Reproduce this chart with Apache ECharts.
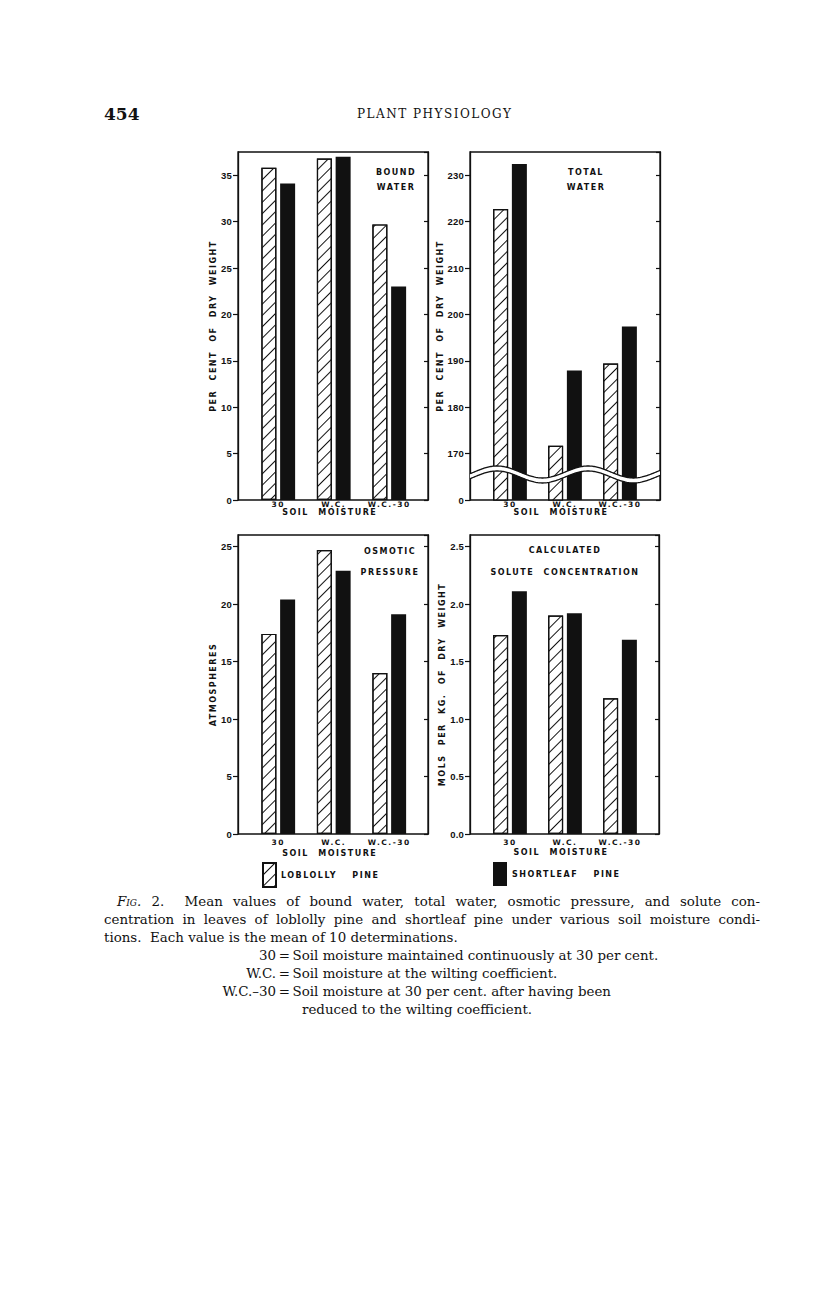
<!DOCTYPE html>
<html>
<head>
<meta charset="utf-8">
<script src="https://cdn.jsdelivr.net/npm/echarts@6/dist/echarts.min.js"></script>
<style>
    body { margin: 0; background: #fff; }
    #chart { position: absolute; left: 0; top: 0; width: 816px; height: 1297px; }
    #chart text { letter-spacing: 1.5px; word-spacing: 5px; }
    #chart text[style*="Liberation"] { letter-spacing: 0.2px; }
    #chart text[style*="Verdana"] { word-spacing: 11px; }
    .t { position: absolute; font-family: "DejaVu Serif", serif; color: #111; white-space: nowrap; }
    .cap { font-size: 13.4px; line-height: 18px; }
    .j { left: 104px; width: 656px; text-align: justify; text-align-last: justify; white-space: normal; }
    .k { display: inline-block; width: 80px; text-align: right; }
</style>
</head>
<body>
<div id="chart"></div>

<div class="t" style="left:104px;top:104px;font-size:17px;font-weight:bold;">454</div>
<div class="t" style="left:357px;top:107px;font-size:12px;letter-spacing:1.5px;">PLANT PHYSIOLOGY</div>

<div class="t cap j" style="left:117px;width:643px;top:893px;"><i style="font-variant:small-caps">Fig.</i> 2.&nbsp; Mean values of bound water, total water, osmotic pressure, and solute con-</div>
<div class="t cap j" style="top:911px;">centration in leaves of loblolly pine and shortleaf pine under various soil moisture condi-</div>
<div class="t cap" style="left:104px;top:929px;">tions.&nbsp; Each value is the mean of 10 determinations.</div>
<div class="t cap" style="left:196px;top:947px;"><span class="k">30</span>&thinsp;=&thinsp;Soil moisture maintained continuously at 30 per cent.</div>
<div class="t cap" style="left:196px;top:965px;"><span class="k">W.C.</span>&thinsp;=&thinsp;Soil moisture at the wilting coefficient.</div>
<div class="t cap" style="left:196px;top:983px;"><span class="k">W.C.–30</span>&thinsp;=&thinsp;Soil moisture at 30 per cent. after having been</div>
<div class="t cap" style="left:302px;top:1001px;">reduced to the wilting coefficient.</div>

<script>
    // soil moisture treatments
    const categories = ['30', 'W.C.', 'W.C.-30'];

    // bound water, per cent of dry weight
    const boundLob = [35.8, 36.8, 29.7];
    const boundShort = [34.1, 37.0, 23.0];
    // total water, per cent of dry weight (axis broken below 170)
    const totalLob = [222.7, 171.7, 189.4];
    const totalShort = [232.4, 187.9, 197.4];
    // osmotic pressure, atmospheres
    const osmoticLob = [17.4, 24.7, 14.0];
    const osmoticShort = [20.4, 22.9, 19.1];
    // calculated solute concentration, mols per kg of dry weight
    const soluteLob = [1.73, 1.90, 1.18];
    const soluteShort = [2.11, 1.92, 1.69];

    const lobName = 'LOBLOLLY PINE';
    const shortName = 'SHORTLEAF PINE';

    const letterFont = '"DejaVu Sans", sans-serif';
    const tickFont = '"Liberation Sans", sans-serif';
    const legendFont = '"DejaVu Sans", Verdana, sans-serif';

    const hatch = {
        symbol: 'rect',
        symbolSize: 1,
        color: '#111',
        backgroundColor: null,
        dashArrayX: [1, 0],
        dashArrayY: [1, 6.4],
        rotation: -Math.PI / 4
    };

    const panels = [
        {
            lob: boundLob, short: boundShort,
            min: 0, max: 37.5, step: 5,
            fmt: v => String(v),
            yName: 'PER CENT OF DRY WEIGHT',
            title: ['BOUND', 'WATER'],
            frame: [238, 152, 190, 348], inner: [250.5, 166.5],
            titleAt: [396, 172, 187], catMargin: 0, soilGap: 6, nameGap: 17
        },
        {
            lob: totalLob, short: totalShort,
            min: 160, max: 235, step: 10,
            fmt: v => (v === 160 ? '0' : String(v)),
            yName: 'PER CENT OF DRY WEIGHT',
            title: ['TOTAL', 'WATER'],
            frame: [470, 152, 190, 348], inner: [482.5, 165],
            titleAt: [586, 172, 187], catMargin: 0, soilGap: 5, nameGap: 18,
            breakAt: 165.5
        },
        {
            lob: osmoticLob, short: osmoticShort,
            min: 0, max: 26, step: 5,
            fmt: v => String(v),
            yName: 'ATMOSPHERES',
            title: ['OSMOTIC', 'PRESSURE'],
            frame: [238, 535, 190, 299], inner: [250.5, 166.5],
            titleAt: [390, 551, 572], catMargin: 4, soilGap: 15, nameGap: 17
        },
        {
            lob: soluteLob, short: soluteShort,
            min: 0, max: 2.6, step: 0.5,
            fmt: v => v.toFixed(1),
            yName: 'MOLS PER KG. OF DRY WEIGHT',
            title: ['CALCULATED', 'SOLUTE CONCENTRATION'],
            frame: [470, 535, 189, 299], inner: [482.5, 165],
            titleAt: [565, 550, 572], catMargin: 4, soilGap: 14, nameGap: 18
        }
    ];

    function renderBreak(params, api) {
        const cs = params.coordSys;
        const cy = api.coord([0, api.value(1)])[1];
        const amp = 6, period = 91, band = 5, phase = 27;
        const upper = [], lower = [];
        for (let x = cs.x; x <= cs.x + cs.width + 0.01; x += 1) {
            const y = cy - amp * Math.cos(2 * Math.PI * (x - cs.x - phase) / period);
            upper.push([x, y - band / 2]);
            lower.push([x, y + band / 2]);
        }
        return {
            type: 'group',
            children: [
                { type: 'polygon', shape: { points: upper.concat(lower.slice().reverse()) }, style: { fill: '#fff' } },
                { type: 'polyline', shape: { points: upper }, style: { stroke: '#111', lineWidth: 1.3, fill: null } },
                { type: 'polyline', shape: { points: lower }, style: { stroke: '#111', lineWidth: 1.3, fill: null } }
            ]
        };
    }

    const grid = [], xAxis = [], yAxis = [], series = [], graphic = [];

    panels.forEach((p, i) => {
        const [fx, fy, fw, fh] = p.frame;
        const outer = grid.length;
        grid.push({ left: fx, top: fy, width: fw, height: fh, show: true, borderColor: '#111', borderWidth: 1.3, backgroundColor: 'transparent' });
        grid.push({ left: p.inner[0], top: fy, width: p.inner[1], height: fh });

        xAxis.push({ gridIndex: outer, type: 'value', min: 0, max: 1, show: false });
        xAxis.push({
            gridIndex: outer + 1, type: 'category', data: categories,
            axisLine: { show: false }, axisTick: { show: false }, splitLine: { show: false },
            axisLabel: { margin: p.catMargin, color: '#111', fontFamily: letterFont, fontWeight: 'bold', fontSize: 7.5 },
            name: 'SOIL MOISTURE', nameLocation: 'middle', nameGap: p.soilGap,
            nameTextStyle: { color: '#111', fontFamily: letterFont, fontWeight: 'bold', fontSize: 8, padding: [0, 8, 0, 0] }
        });

        const yl = yAxis.length;
        const scale = { min: p.min, max: p.max, interval: p.step };
        yAxis.push(Object.assign({
            gridIndex: outer, type: 'value', position: 'left',
            axisLine: { show: true, lineStyle: { color: '#111', width: 1.3 } },
            axisTick: { show: true, inside: false, length: 5, lineStyle: { color: '#111', width: 1.2 } },
            splitLine: { show: false },
            axisLabel: {
                margin: 6, color: '#111', fontFamily: tickFont, fontWeight: 'bold', fontSize: 9.5,
                showMaxLabel: false,
                formatter: v => ((v - p.min) % p.step > 1e-6 && p.step - (v - p.min) % p.step > 1e-6 ? '' : p.fmt(v))
            },
            name: p.yName, nameLocation: 'middle', nameRotate: 90, nameGap: p.nameGap,
            nameTextStyle: { color: '#111', fontFamily: letterFont, fontWeight: 'bold', fontSize: 8 }
        }, scale));
        yAxis.push(Object.assign({
            gridIndex: outer, type: 'value', position: 'right',
            axisLine: { show: true, lineStyle: { color: '#111', width: 1.3 } },
            axisTick: { show: true, inside: true, length: 4, lineStyle: { color: '#111', width: 1.2 } },
            axisLabel: { show: false }, splitLine: { show: false }
        }, scale));
        yAxis.push(Object.assign({ gridIndex: outer + 1, type: 'value', show: false, splitLine: { show: false } }, scale));

        series.push({
            name: lobName, type: 'bar', xAxisIndex: outer + 1, yAxisIndex: yl + 2,
            data: p.lob, barWidth: 15, barGap: '25%',
            itemStyle: { color: '#fff', borderColor: '#111', borderWidth: 1.2, decal: hatch },
            emphasis: { disabled: true }
        });
        series.push({
            name: shortName, type: 'bar', xAxisIndex: outer + 1, yAxisIndex: yl + 2,
            data: p.short, barWidth: 15, barGap: '25%',
            itemStyle: { color: '#111' },
            emphasis: { disabled: true }
        });

        if (p.breakAt !== undefined) {
            series.push({
                type: 'custom', xAxisIndex: outer, yAxisIndex: yl, z: 10,
                data: [[0.5, p.breakAt]], renderItem: renderBreak, silent: true
            });
        }

        p.title.forEach((line, k) => {
            graphic.push({
                type: 'text', x: p.titleAt[0], y: p.titleAt[k + 1], silent: true,
                style: {
                    text: line, textAlign: 'center', textVerticalAlign: 'middle',
                    font: 'bold 8px ' + letterFont, fill: '#111'
                }
            });
        });
    });

    const legendText = { color: '#111', fontFamily: legendFont, fontWeight: 'bold', fontSize: 8 };

    const option = {
        animation: false,
        backgroundColor: 'transparent',
        grid: grid,
        xAxis: xAxis,
        yAxis: yAxis,
        series: series,
        graphic: graphic,
        legend: [
            { data: [lobName], left: 257, top: 857, icon: 'rect', itemWidth: 13, itemHeight: 24, selectedMode: false, textStyle: legendText },
            { data: [shortName], left: 488, top: 857, icon: 'rect', itemWidth: 14, itemHeight: 24, selectedMode: false, textStyle: legendText }
        ]
    };

    const myChart = echarts.init(document.getElementById('chart'), null, { renderer: 'svg' });
    myChart.setOption(option);
</script>
</body>
</html>
